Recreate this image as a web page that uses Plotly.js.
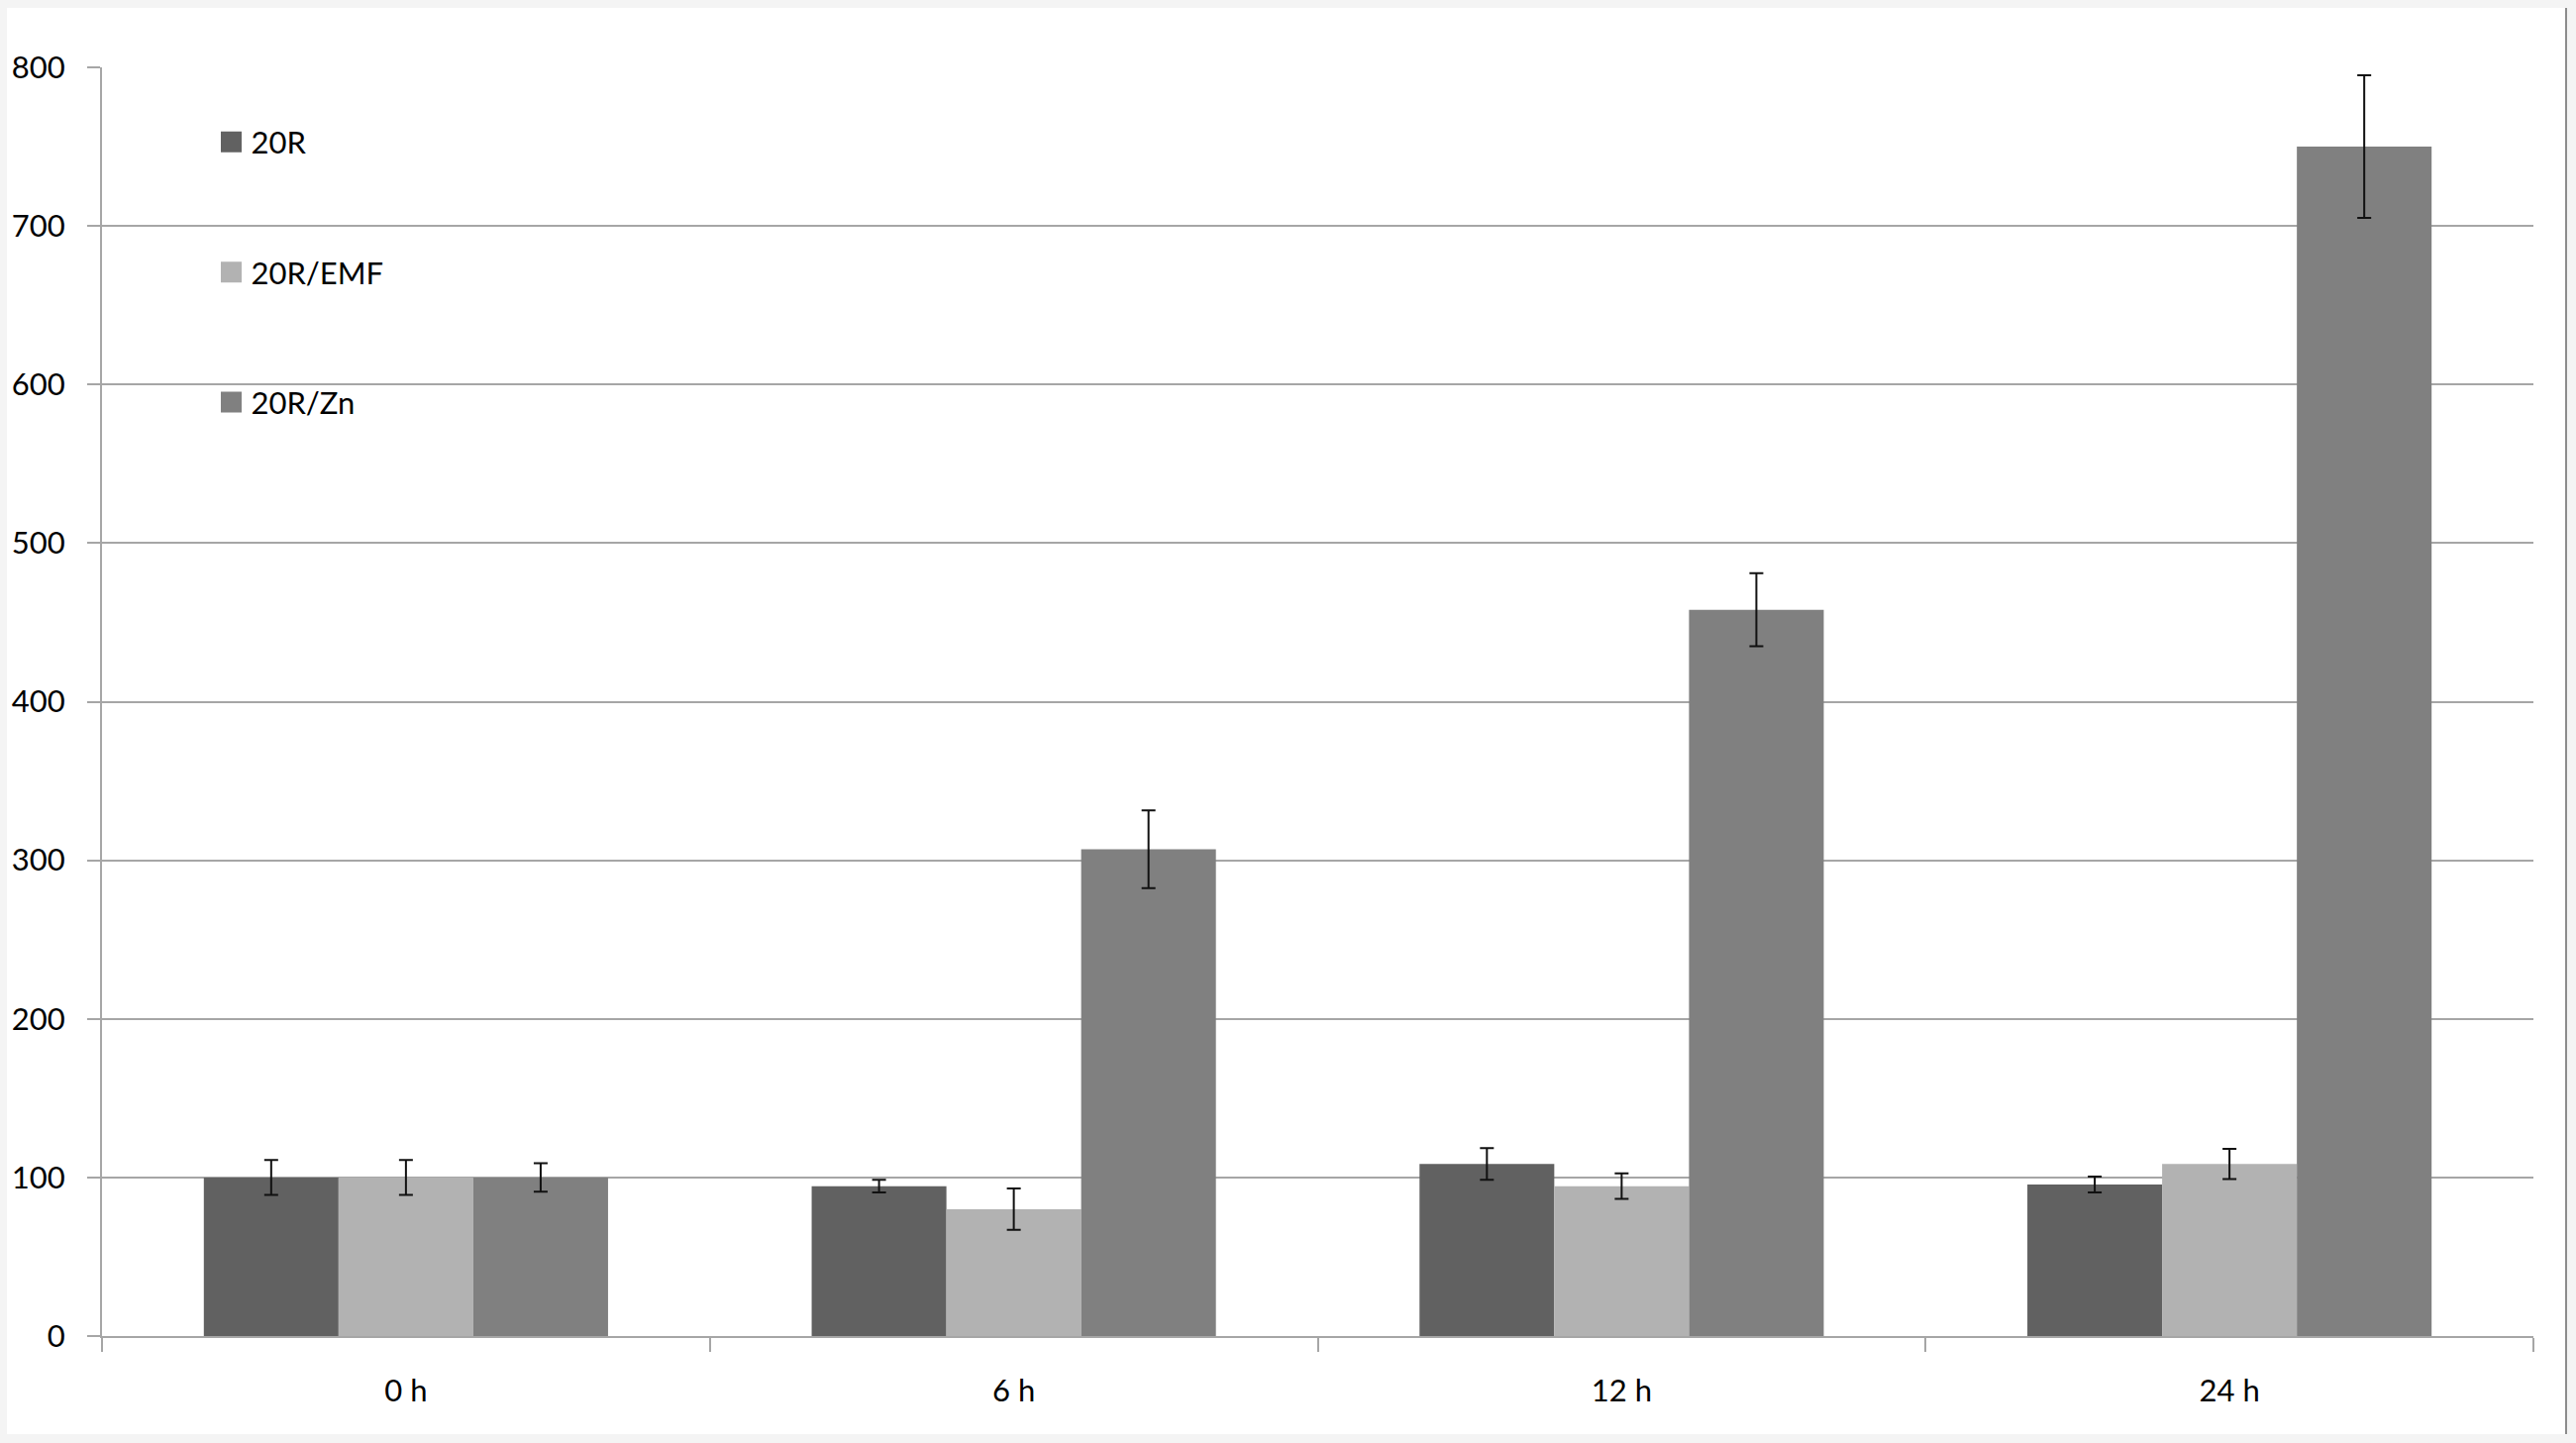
<!DOCTYPE html>
<html>
<head>
<meta charset="utf-8">
<script src="https://cdn.plot.ly/plotly-3.0.1.min.js"></script>
<style>
  html, body { margin: 0; padding: 0; background: #f4f4f4; width: 2601px; height: 1457px; overflow: hidden; }
  #chart { position: absolute; left: 7px; top: 8px; width: 2583px; height: 1440px; background: #ffffff; border-right: 2px solid #8c8c8c; }
</style>
</head>
<body>
<div id="chart"></div>
<script>
// Data
const categories = ["0 h", "6 h", "12 h", "24 h"];
const seriesNames = ["20R", "20R/EMF", "20R/Zn"];
const values20R    = [100, 94.5, 108.5, 95.5];
const err20R       = [11, 4, 10, 5];
const valuesEMF    = [100, 80, 94.5, 108.5];
const errEMF       = [11, 13, 8, 9.5];
const valuesZn     = [100, 307, 458, 750];
const errZn        = [9, 24.5, 23, 45];
const colors = ["#616161", "#b2b2b2", "#808080"];

const FONT = "Lato, 'Open Sans', sans-serif";

function mkTrace(name, vals, errs, color, idx) {
  return {
    type: "bar",
    name: name,
    x: categories,
    y: vals,
    legendgroup: "g" + idx,
    marker: { color: color, line: { width: 0 } },
    error_y: { type: "data", array: errs, visible: true, color: "#111111", thickness: 2, width: 7 }
  };
}

const data = [
  mkTrace(seriesNames[0], values20R, err20R, colors[0], 0),
  mkTrace(seriesNames[1], valuesEMF, errEMF, colors[1], 1),
  mkTrace(seriesNames[2], valuesZn, errZn, colors[2], 2)
];

const layout = {
  width: 2583,
  height: 1440,
  paper_bgcolor: "#ffffff",
  plot_bgcolor: "#ffffff",
  margin: { l: 96, r: 32, t: 60, b: 99, pad: 0 },
  barmode: "group",
  bargap: 0.335,
  bargroupgap: 0,
  font: { family: FONT, size: 30, color: "#000000" },
  showlegend: true,
  legend: {
    x: 0.045, xanchor: "left",
    y: 0.962, yanchor: "top",
    bgcolor: "rgba(0,0,0,0)",
    borderwidth: 0,
    traceorder: "grouped",
    tracegroupgap: 88,
    font: { family: FONT, size: 31, color: "#000000" }
  },
  xaxis: {
    type: "category",
    showgrid: false,
    showline: true,
    linecolor: "#a6a6a6",
    linewidth: 2,
    ticks: "outside",
    tickson: "boundaries",
    ticklen: 14,
    tickwidth: 2,
    tickcolor: "#a6a6a6",
    tickfont: { family: FONT, size: 31, color: "#000000" },
    ticklabelstandoff: 27,
    zeroline: false
  },
  yaxis: {
    range: [0, 800],
    dtick: 100,
    tick0: 0,
    showgrid: true,
    gridcolor: "#a6a6a6",
    gridwidth: 2,
    showline: true,
    linecolor: "#a6a6a6",
    linewidth: 2,
    ticks: "outside",
    ticklen: 13,
    tickwidth: 2,
    tickcolor: "#a6a6a6",
    tickfont: { family: FONT, size: 31, color: "#000000" },
    ticklabelstandoff: 16,
    zeroline: false
  }
};

Plotly.newPlot("chart", data, layout, { displayModeBar: false, staticPlot: true }).then(function (gd) {
  // enlarge legend swatches to match the reference's bigger squares (keep Plotly's own translate)
  gd.querySelectorAll(".legend .legendpoints path").forEach(function (p) {
    var t = p.getAttribute("transform") || "";
    p.setAttribute("transform", t + " scale(1.75)");
  });
});
</script>
</body>
</html>
